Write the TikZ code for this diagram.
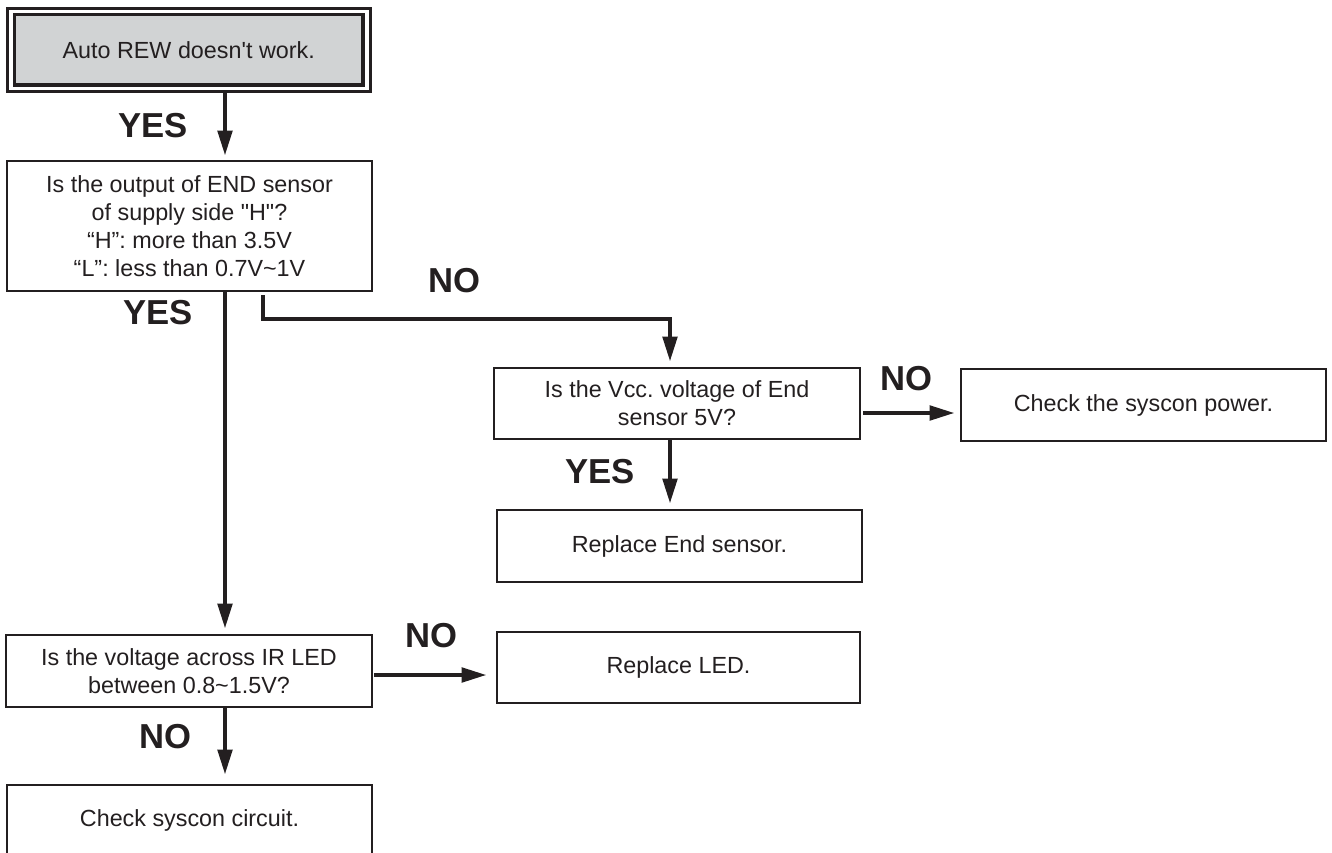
\documentclass[tikz,border=0pt]{standalone}
\usepackage{fontspec}
\setmainfont{Liberation Sans}[Ligatures=TeXOff]
\usetikzlibrary{arrows.meta,calc}
\definecolor{ink}{HTML}{231F20}
\definecolor{panel}{HTML}{D1D3D4}
\begin{document}
\frenchspacing
\begin{tikzpicture}[x=0.75pt,y=-0.75pt,
  every node/.style={text=ink},
  box/.style={draw=ink, line width=1.6pt, fill=white, inner sep=0pt, outer sep=0pt,
    align=center, font=\fontsize{17.5}{21}\selectfont},
  tag/.style={font=\fontsize{26}{26}\selectfont\bfseries, inner sep=0pt},
  flow/.style={draw=ink, line width=3.6pt, -{Triangle[length=19pt,width=10.5pt]}},
  bar/.style={draw=ink, line width=3.6pt}]
\clip (0,0) rectangle (1332,853);

% columns and rows used by the connectors
\coordinate (colA) at (225,0);
\coordinate (colB) at (263,0);
\coordinate (colC) at (670,0);
\coordinate (rowNO) at (0,319);
\coordinate (rowV) at (0,413);
\coordinate (rowL) at (0,675);

% start box with a double frame
\node[box, fill=panel, line width=2.4pt, minimum width=348.7*0.75pt, minimum height=70.3*0.75pt]
  (start) at (188.7,49.9) {Auto REW doesn't work.};
\draw[ink, line width=2.4pt] ($(start.north west)+(-6.8,-6.5)$) coordinate (frameNW)
  rectangle ($(start.south east)+(7.5,6.7)$) coordinate (frameSE);

% decision and action boxes
\node[box, minimum width=365*0.75pt, minimum height=130*0.75pt] (q1) at (189.5,226)
  {Is the output of END sensor\\of supply side "H"?\\“H”: more than 3.5V\\“L”: less than 0.7V\textasciitilde1V};
\node[box, minimum width=366*0.75pt, minimum height=71*0.75pt] (vcc) at (677,403.5)
  {Is the Vcc. voltage of End\\sensor 5V?};
\node[box, minimum width=365*0.75pt, minimum height=72*0.75pt] (power) at (1143.5,405)
  {Check the syscon power.};
\node[box, minimum width=365*0.75pt, minimum height=72*0.75pt] (endsens) at (679.5,546)
  {Replace End sensor.};
\node[box, minimum width=366*0.75pt, minimum height=72*0.75pt] (ir) at (189,671)
  {Is the voltage across IR LED\\between 0.8\textasciitilde1.5V?};
\node[box, minimum width=363*0.75pt, minimum height=71*0.75pt] (led) at (678.5,667.5)
  {Replace LED.};
\node[box, minimum width=365*0.75pt, minimum height=71*0.75pt] (circuit) at (189.5,820.5)
  {Check syscon circuit.};

% connectors
\draw[flow] ($(frameSE -| colA)+(0,1)$) -- ($(q1.north -| colA)+(0,-5)$);
\draw[flow] (q1.south -| colA) -- ($(ir.north -| colA)+(0,-6)$);
\draw[flow] ($(q1.south -| colB)+(0,4)$) -- (colB |- rowNO) -- (colC |- rowNO)
  -- ($(vcc.north -| colC)+(0,-6)$);
\draw[flow] ($(vcc.east |- rowV)+(3,0)$) -- ($(power.west |- rowV)+(-6,0)$);
\draw[flow] (vcc.south -| colC) -- ($(endsens.north -| colC)+(0,-6)$);
\draw[flow] ($(ir.east |- rowL)+(2,0)$) -- ($(led.west |- rowL)+(-10,0)$);
\draw[flow] (ir.south -| colA) -- ($(circuit.north -| colA)+(0,-10)$);

% branch labels
\node[tag] (yes1) at (153,126) {YES};
\node[tag] (yes2) at (158,313) {YES};
\node[tag] (no1) at (454,281) {NO};
\node[tag] (no2) at (906,379) {NO};
\node[tag] (yes3) at (600,472) {YES};
\node[tag] (no3) at (431,636) {NO};
\node[tag] (no4) at (165,737) {NO};
\end{tikzpicture}
\end{document}
